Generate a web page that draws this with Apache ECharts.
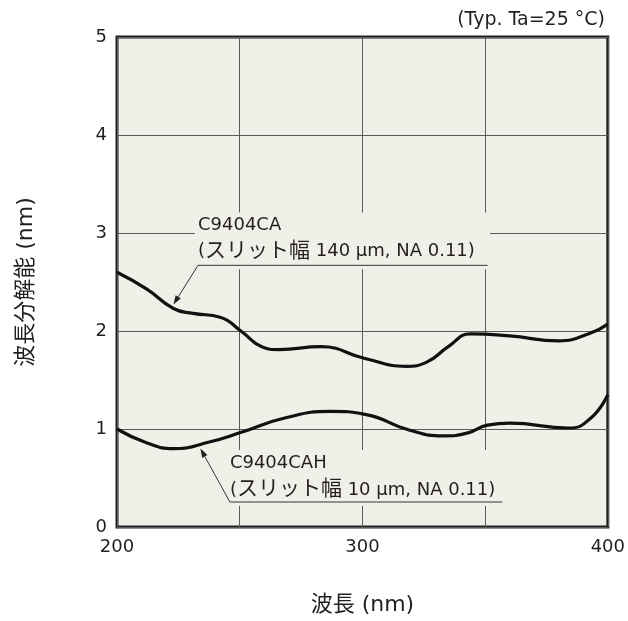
<!DOCTYPE html>
<html>
<head>
<meta charset="utf-8">
<script src="https://cdn.jsdelivr.net/npm/echarts@6/dist/echarts.min.js"></script>
<style>
html,body{margin:0;padding:0;background:#fff;}
#c{width:628px;height:621px;}
</style>
</head>
<body>
<div id="c"></div>
<script>
// Data
const caX  = [200, 212, 223, 231, 242, 251, 259, 266, 283, 301, 318, 326, 335, 344, 360, 380, 393, 400];
const caY  = [2.60, 2.43, 2.23, 2.18, 2.14, 1.99, 1.84, 1.81, 1.84, 1.72, 1.64, 1.68, 1.84, 1.97, 1.95, 1.90, 1.98, 2.07];
const cahX = [200, 212, 223, 238, 251, 268, 287, 301, 319, 333, 343, 351, 360, 384, 393, 400];
const cahY = [1.00, 0.86, 0.80, 0.87, 0.97, 1.11, 1.18, 1.15, 0.99, 0.93, 0.96, 1.04, 1.06, 1.01, 1.11, 1.35];
const xTicks = [200, 250, 300, 350, 400];
const xLabelShown = [200, 300, 400];
const yTicks = [0, 1, 2, 3, 4, 5];

const seriesNames = ['C9404CA', 'C9404CAH'];
const labelLines2 = ['(スリット幅 140 µm, NA 0.11)', '(スリット幅 10 µm, NA 0.11)'];
// annotation anchors in data coordinates
const annCA  = {tip:[223, 2.27], elbow:[233, 2.67], endX:351, l1:3.08, l2:2.81, top:3.21, bot:2.63, right:352};
const annCAH = {tip:[234, 0.80], elbow:[246, 0.255], endX:357, l1:0.653, l2:0.378, top:0.785, bot:0.215, right:358};

const FONT = '"DejaVu Sans", "Noto Sans CJK JP", sans-serif';
const CJKFONT = '"Noto Sans CJK JP", "DejaVu Sans", sans-serif';
const FS = 18;
const FSJ = 21;
const TXT = '#231f20';
const BG = '#f1f0e8';

const chart = echarts.init(document.getElementById('c'), null, {renderer: 'canvas'});
const pairs = (xs, ys) => xs.map((x, i) => [x, ys[i]]);

const option = {
  animation: false,
  textStyle: {fontFamily: FONT},
  title: {
    text: '(Typ. Ta=25 °C)',
    right: 18, top: 6,
    textStyle: {fontFamily: FONT, fontSize: 19, fontWeight: 'normal', color: TXT}
  },
  grid: {
    left: 117, right: 20, top: 37, bottom: 94,
    show: true, backgroundColor: BG, borderColor: TXT, borderWidth: 3
  },
  xAxis: {
    type: 'value', min: 200, max: 400, interval: 50,
    name: '波長 (nm)', nameLocation: 'middle', nameGap: 67,
    nameTextStyle: {fontFamily: FONT, fontSize: 22, color: TXT},
    axisLine: {show: false}, axisTick: {show: false},
    axisLabel: {
      fontFamily: FONT, fontSize: FS, color: TXT, margin: 11,
      formatter: v => xLabelShown.includes(v) ? String(v) : ''
    },
    splitLine: {show: true, lineStyle: {color: '#5a5a5a', width: 1}}
  },
  yAxis: {
    type: 'value', min: 0, max: 5, interval: 1,
    name: '波長分解能 (nm)', nameLocation: 'middle', nameGap: 80,
    nameTextStyle: {fontFamily: FONT, fontSize: 22, color: TXT},
    axisLine: {show: false}, axisTick: {show: false},
    axisLabel: {fontFamily: FONT, fontSize: FS, color: TXT, margin: 10},
    splitLine: {show: true, lineStyle: {color: '#5a5a5a', width: 1}}
  },
  series: [
    {name: seriesNames[0], type: 'line', data: pairs(caX, caY), smooth: 0.5,
     showSymbol: false, lineStyle: {color: '#111', width: 3.2}, z: 3},
    {name: seriesNames[1], type: 'line', data: pairs(cahX, cahY), smooth: 0.5,
     showSymbol: false, lineStyle: {color: '#111', width: 3.2}, z: 3}
  ]
};
chart.setOption(option);

function px(p) { return chart.convertToPixel({gridIndex: 0}, p); }

function toRich(s) {
  // split runs of CJK characters into a larger style
  return s.replace(/([^\x00-\x7F\u00B0\u00B5]+)/g, '}{j|$1}{a|').replace(/^/, '{a|') + '}';
}

function annotation(a, name, line2) {
  const tip = px(a.tip), elbow = px(a.elbow);
  const end = px([a.endX, a.elbow[1]]);
  const l1 = px([a.elbow[0], a.l1]), l2 = px([a.elbow[0], a.l2]);
  const tl = px([a.elbow[0], a.top]), br = px([a.right, a.bot]);
  const dx = tip[0] - elbow[0], dy = tip[1] - elbow[1];
  const len = Math.sqrt(dx*dx + dy*dy), ux = dx/len, uy = dy/len;
  const ah = 9, aw = 3;
  const base = [tip[0] - ux*ah, tip[1] - uy*ah];
  return [
    {type: 'rect', z: 1, silent: true,
     shape: {x: tl[0] - 3, y: tl[1], width: br[0] - tl[0] + 3, height: br[1] - tl[1]},
     style: {fill: BG}},
    {type: 'line', z: 4, shape: {x1: elbow[0], y1: elbow[1], x2: end[0], y2: end[1]},
     style: {stroke: '#333', lineWidth: 1}},
    {type: 'line', z: 4, shape: {x1: elbow[0], y1: elbow[1], x2: base[0], y2: base[1]},
     style: {stroke: '#333', lineWidth: 1}},
    {type: 'polygon', z: 4, shape: {points: [tip, [base[0] - uy*aw, base[1] + ux*aw], [base[0] + uy*aw, base[1] - ux*aw]]},
     style: {fill: '#222'}},
    {type: 'text', z: 4, x: l1[0], y: l1[1],
     style: {text: name, font: FS + 'px ' + FONT, fill: TXT, verticalAlign: 'middle', align: 'left'}},
    {type: 'text', z: 4, x: l2[0], y: l2[1],
     style: {text: toRich(line2), verticalAlign: 'middle', align: 'left',
             rich: {a: {fontFamily: FONT, fontSize: FS, fill: TXT, color: TXT, lineHeight: 24, verticalAlign: 'middle'},
                    j: {fontFamily: CJKFONT, fontSize: FSJ, fill: TXT, color: TXT, lineHeight: 24, verticalAlign: 'middle',
                        padding: [0, 0, 6, 0]}}}}
  ];
}

chart.setOption({
  graphic: [].concat(annotation(annCA, seriesNames[0], labelLines2[0]),
                     annotation(annCAH, seriesNames[1], labelLines2[1]))
});
</script>
</body>
</html>
